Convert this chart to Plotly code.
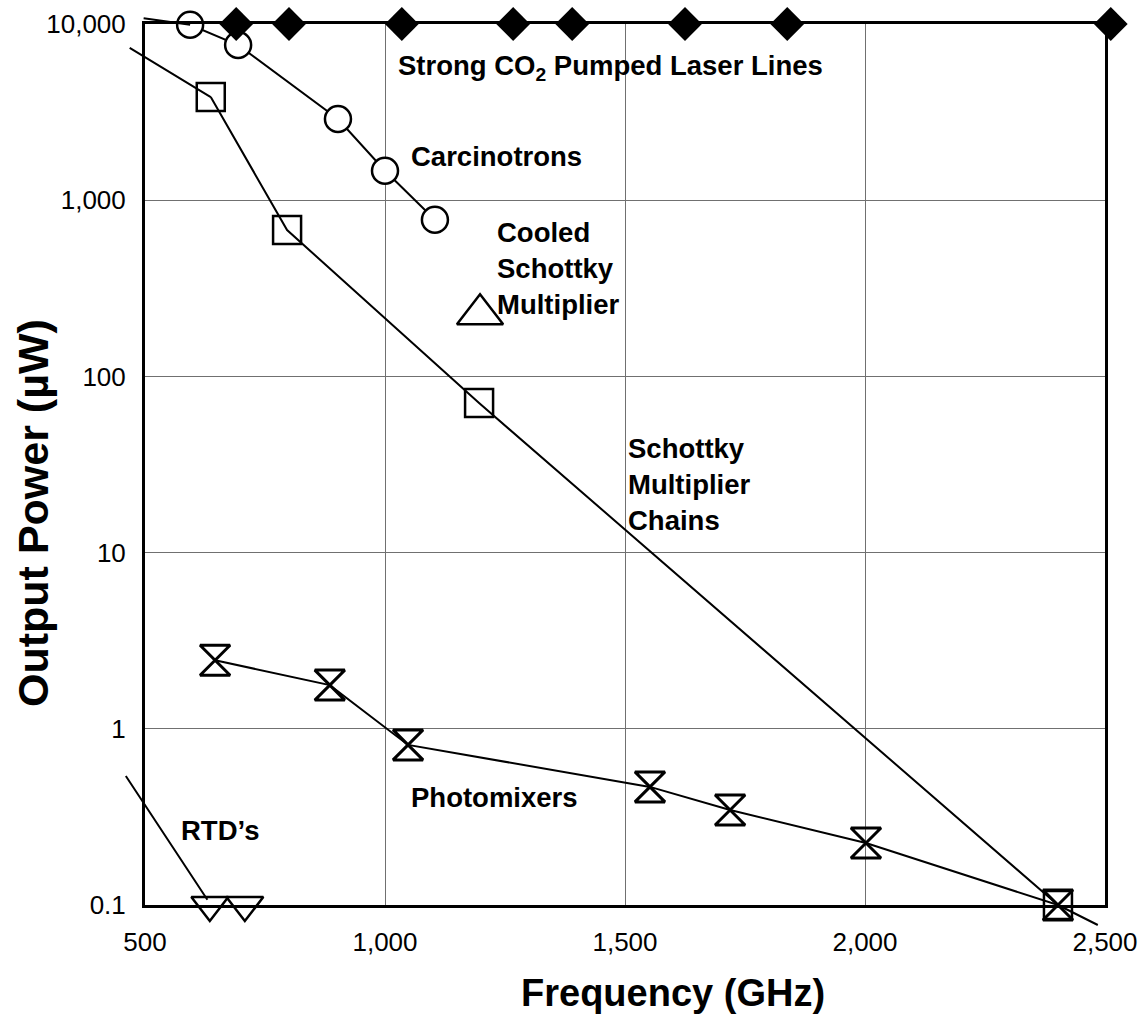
import numpy as np
import plotly.graph_objects as go

# ---- data ----
laser_freq = [690, 800, 1035, 1267, 1390, 1625, 1838, 2512]
laser_pow = [10000] * 8

carc_freq = [594, 694, 902, 1000, 1104]
carc_pow = [9900, 7600, 2890, 1470, 775]
carc_ext_freq = [494]
carc_ext_pow = [10800]

schottky_freq = [637, 796, 1196, 2402]
schottky_pow = [3850, 677, 70.6, 0.1]
schottky_ext_freq = [465]
schottky_ext_pow = [7400]

cooled_freq = [1198]
cooled_pow = [225]

photo_freq = [646, 885, 1048, 1552, 1719, 2002, 2402]
photo_pow = [2.45, 1.77, 0.81, 0.468, 0.346, 0.225, 0.1]
photo_ext_freq = [2485]
photo_ext_pow = [0.077]

rtd_freq = [635, 708]
rtd_pow = [0.1, 0.1]
rtd_arrow_freq = [458, 630]
rtd_arrow_pow = [0.55, 0.107]

x_range = [500, 2500]
x_ticks = [500, 1000, 1500, 2000, 2500]
x_ticktext = ["500", "1,000", "1,500", "2,000", "2,500"]
y_ticks = [0.1, 1, 10, 100, 1000, 10000]
y_ticktext = ["0.1", "1", "10", "100", "1,000", "10,000"]

labels_text = ["Strong CO<sub>2</sub> Pumped Laser Lines", "Carcinotrons",
               "Cooled<br>Schottky<br>Multiplier", "Schottky<br>Multiplier<br>Chains",
               "Photomixers", "RTD\u2019s"]
labels_freq = [1022, 1049, 1230, 1503, 1050, 571]
labels_pow = [5650, 1760, 410, 24.2, 0.41, 0.265]

FONT = "Liberation Sans, Arial, sans-serif"
BLACK = "black"

# layout geometry: main plot 960 px wide; a hidden wider overlay lets the
# last laser line (beyond 2,500 GHz) be drawn outside the frame on the same scale
W, H = 1140, 1015
ML, MR = 145, 25
area = W - ML - MR
main_w = 960
main_dom = main_w / area
x2_range = [x_range[0], x_range[0] + (x_range[1] - x_range[0]) / main_dom]

fig = go.Figure()

for xs, ys in [(carc_freq, carc_pow), (schottky_freq, schottky_pow), (photo_freq, photo_pow)]:
    fig.add_trace(go.Scatter(x=xs, y=ys, mode="lines", line=dict(color=BLACK, width=2),
                             hoverinfo="skip", showlegend=False))

fig.add_trace(go.Scatter(x=carc_freq, y=carc_pow, mode="markers", cliponaxis=False,
                         marker=dict(symbol="circle", size=26, color="white",
                                     line=dict(color=BLACK, width=2.5)), showlegend=False))
fig.add_trace(go.Scatter(x=schottky_freq, y=schottky_pow, mode="markers", cliponaxis=False,
                         marker=dict(symbol="square-open", size=28, color=BLACK,
                                     line=dict(color=BLACK, width=2.5)), showlegend=False))
fig.add_trace(go.Scatter(x=photo_freq, y=photo_pow, mode="markers", cliponaxis=False,
                         marker=dict(symbol="hourglass-open", size=30, color=BLACK,
                                     line=dict(color=BLACK, width=3)), showlegend=False))
fig.add_trace(go.Scatter(x=cooled_freq, y=cooled_pow, mode="markers", cliponaxis=False,
                         marker=dict(symbol="triangle-up-open", size=40, color=BLACK,
                                     line=dict(color=BLACK, width=2.5)), showlegend=False))
fig.add_trace(go.Scatter(x=rtd_freq, y=rtd_pow, mode="markers", cliponaxis=False,
                         marker=dict(symbol="triangle-down-open", size=32, color=BLACK,
                                     line=dict(color=BLACK, width=2.5)), showlegend=False))
fig.add_trace(go.Scatter(x=laser_freq, y=laser_pow, mode="markers", cliponaxis=False,
                         xaxis="x2", yaxis="y2",
                         marker=dict(symbol="diamond", size=26, color=BLACK), showlegend=False))

annotations = []

def seg(x0, y0, x1, y1):
    annotations.append(dict(x=x1, y=np.log10(y1), ax=x0, ay=np.log10(y0),
                            xref="x", yref="y", axref="x", ayref="y", text="",
                            showarrow=True, arrowhead=0, arrowwidth=2, arrowcolor=BLACK,
                            standoff=0, startstandoff=0))

seg(carc_ext_freq[0], carc_ext_pow[0], carc_freq[0], carc_pow[0])
seg(schottky_ext_freq[0], schottky_ext_pow[0], schottky_freq[0], schottky_pow[0])
seg(photo_freq[-1], photo_pow[-1], photo_ext_freq[0], photo_ext_pow[0])
seg(rtd_arrow_freq[0], rtd_arrow_pow[0], rtd_arrow_freq[1], rtd_arrow_pow[1])

for t, fx, py in zip(labels_text, labels_freq, labels_pow):
    annotations.append(dict(x=fx, y=np.log10(py), xref="x", yref="y", text=t,
                            showarrow=False, xanchor="left", yanchor="middle", align="left",
                            font=dict(family=FONT, size=27.5, color=BLACK, weight="bold")))

annotations.append(dict(x=(673 - ML) / area, y=-0.1, xref="paper", yref="paper",
                        text="Frequency (GHz)", showarrow=False,
                        xanchor="center", yanchor="middle",
                        font=dict(family=FONT, size=38, color=BLACK, weight="bold")))
annotations.append(dict(x=(33 - ML) / area, y=0.445, xref="paper", yref="paper",
                        text="Output Power (\u00b5W)", showarrow=False,
                        xanchor="center", yanchor="middle", textangle=-90,
                        font=dict(family=FONT, size=43, color=BLACK, weight="bold")))

fig.update_layout(
    width=W, height=H,
    margin=dict(l=ML, r=MR, t=24, b=110),
    paper_bgcolor="white", plot_bgcolor="rgba(0,0,0,0)",
    annotations=annotations,
    font=dict(family=FONT, color=BLACK),
    xaxis=dict(domain=[0, main_dom], range=x_range, tickvals=x_ticks, ticktext=x_ticktext,
               showgrid=True, gridcolor="#707070", gridwidth=1,
               showline=True, mirror=True, linecolor=BLACK, linewidth=3,
               ticks="", ticklabelstandoff=12, zeroline=False, automargin=False,
               tickfont=dict(family=FONT, size=26, color=BLACK)),
    yaxis=dict(type="log", range=[-1, 4], tickvals=y_ticks, ticktext=y_ticktext,
               showgrid=True, gridcolor="#707070", gridwidth=1,
               showline=True, mirror=True, linecolor=BLACK, linewidth=3,
               ticks="", ticklabelstandoff=11, zeroline=False, automargin=False,
               tickfont=dict(family=FONT, size=26, color=BLACK)),
    xaxis2=dict(domain=[0, 1], range=x2_range, anchor="y2", visible=False,
                showgrid=False, zeroline=False, automargin=False),
    yaxis2=dict(domain=[0, 1], type="log", range=[-1, 4], anchor="x2", visible=False,
                showgrid=False, zeroline=False, automargin=False),
)

fig.write_html("out.html")
